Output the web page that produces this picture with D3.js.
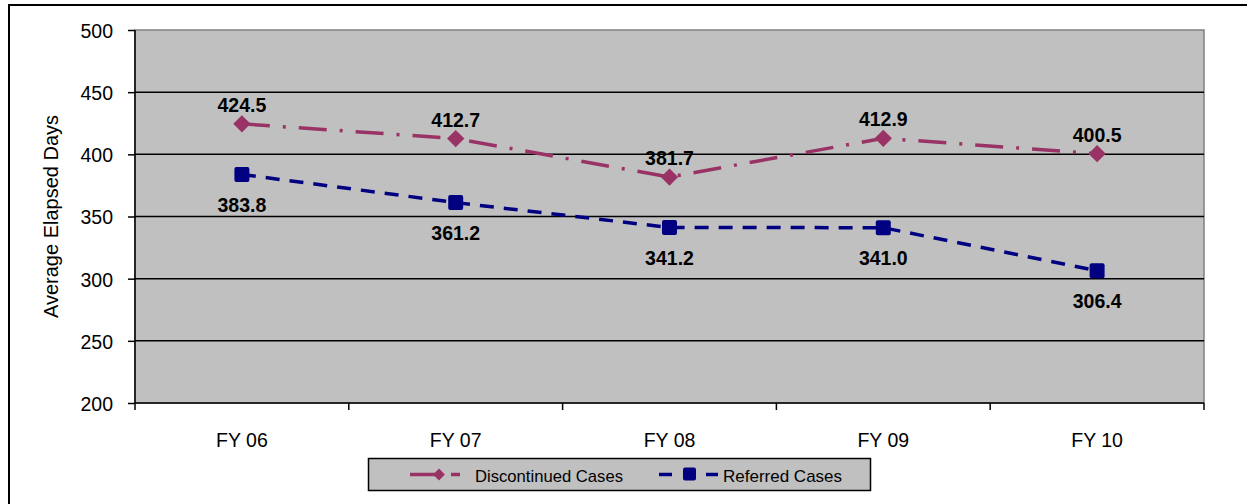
<!DOCTYPE html>
<html><head><meta charset="utf-8">
<script src="https://cdn.jsdelivr.net/npm/d3@7"></script>
<style>body{margin:0;background:#fff;}svg{display:block;font-family:Arial,"Liberation Sans",sans-serif;}</style>
</head><body>
<svg id="c" width="1247" height="504"></svg>
<script>
const categories = ["FY 06","FY 07","FY 08","FY 09","FY 10"];
const discontinued = [424.5, 412.7, 381.7, 412.9, 400.5];
const referred = [383.8, 361.2, 341.2, 341.0, 306.4];
const yTicks = [200,250,300,350,400,450,500];
const seriesNames = ["Discontinued Cases","Referred Cases"];

const FONT = "Arial,'Liberation Sans',sans-serif";
const svg = d3.select("#c");
const L=135, R=1204, T=30, B=403;
// outer border
svg.append("rect").attr("x",9).attr("y",5).attr("width",1250).attr("height",510)
  .attr("fill","none").attr("stroke","#000").attr("stroke-width",2);

const x = d3.scaleBand().domain(categories).range([L,R]);
const y = d3.scaleLinear().domain([200,500]).range([B,T]);

svg.append("rect").attr("x",L).attr("y",T).attr("width",R-L).attr("height",B-T)
  .attr("fill","#c0c0c0").attr("stroke","#808080").attr("stroke-width",1.5);

// gridlines
svg.append("g").selectAll("line").data(yTicks.filter(d=>d>200&&d<500)).join("line")
  .attr("x1",L).attr("x2",R).attr("y1",d=>y(d)).attr("y2",d=>y(d))
  .attr("stroke","#000").attr("stroke-width",1.5);

// y axis
const ya = svg.append("g").attr("transform",`translate(${L},0)`)
  .call(d3.axisLeft(y).tickValues(yTicks).tickSize(7).tickPadding(15));
ya.attr("font-size",null).attr("font-family",null);
ya.select(".domain").attr("stroke","#000").attr("stroke-width",1.5).attr("d",`M0,${T}V${B}`);
ya.selectAll(".tick line").attr("stroke","#000").attr("stroke-width",1.5);
ya.selectAll("text").attr("font-size","19.5px").attr("dy","0.38em").attr("fill","#000").attr("font-family",FONT);

// x axis
const xa = svg.append("g").attr("transform",`translate(0,${B})`)
  .call(d3.axisBottom(x).tickSize(0).tickPadding(30));
xa.attr("font-size",null).attr("font-family",null);
xa.select(".domain").attr("stroke","#000").attr("stroke-width",1.5).attr("d",`M${L},0H${R}`);
xa.selectAll("text").attr("font-size","19.5px").attr("fill","#000").attr("font-family",FONT);
const bounds = categories.map(c=>x(c)).concat([R]);
xa.append("g").selectAll("line").data(bounds).join("line")
  .attr("x1",d=>d).attr("x2",d=>d).attr("y1",0).attr("y2",7)
  .attr("stroke","#000").attr("stroke-width",1.5);

// y label
svg.append("text").attr("transform",`translate(58,${(T+B)/2}) rotate(-90)`)
  .attr("text-anchor","middle").attr("font-size","20px").text("Average Elapsed Days");

const cx = c => x(c)+x.bandwidth()/2;
const pink="#993366", blue="#000080";
const line = d3.line().x((d,i)=>cx(categories[i])).y(d=>y(d));

svg.append("path").datum(discontinued).attr("d",line).attr("fill","none")
  .attr("stroke",pink).attr("stroke-width",3.5).attr("stroke-dasharray","28,13,3,13");
svg.append("path").datum(referred).attr("d",line).attr("fill","none")
  .attr("stroke",blue).attr("stroke-width",3.5).attr("stroke-dasharray","14,10");

const diamond = d3.symbol().type(d3.symbolSquare).size(150);
svg.append("g").selectAll("path").data(discontinued).join("path")
  .attr("d",diamond).attr("fill",pink)
  .attr("transform",(d,i)=>`translate(${cx(categories[i])},${y(d)}) rotate(45)`);
svg.append("g").selectAll("rect").data(referred).join("rect")
  .attr("x",(d,i)=>cx(categories[i])-7.5).attr("y",d=>y(d)-7.5)
  .attr("width",15).attr("height",15).attr("rx",2).attr("fill",blue);

svg.append("g").selectAll("text").data(discontinued).join("text")
  .attr("x",(d,i)=>cx(categories[i])).attr("y",d=>y(d)-12)
  .attr("text-anchor","middle").attr("font-size","19.5px").attr("font-weight","bold")
  .text(d=>d.toFixed(1));
svg.append("g").selectAll("text").data(referred).join("text")
  .attr("x",(d,i)=>cx(categories[i])).attr("y",d=>y(d)+37.5)
  .attr("text-anchor","middle").attr("font-size","19.5px").attr("font-weight","bold")
  .text(d=>d.toFixed(1));

// legend
const lg = svg.append("g");
lg.append("rect").attr("x",368.5).attr("y",458.5).attr("width",502).attr("height",32)
  .attr("fill","#c0c0c0").attr("stroke","#000").attr("stroke-width",1.5);
const ly = 474.5;
lg.append("line").attr("x1",410).attr("x2",470).attr("y1",ly).attr("y2",ly)
  .attr("stroke",pink).attr("stroke-width",3.5).attr("stroke-dasharray","30,11,9");
lg.append("path").attr("d",d3.symbol().type(d3.symbolSquare).size(70))
  .attr("fill",pink).attr("transform",`translate(439,${ly}) rotate(45)`);
lg.append("text").attr("x",475).attr("y",482).attr("font-size","17px")
  .attr("textLength",148).attr("lengthAdjust","spacingAndGlyphs").text(seriesNames[0]);
lg.append("line").attr("x1",659).attr("x2",718).attr("y1",ly).attr("y2",ly)
  .attr("stroke",blue).attr("stroke-width",3.5).attr("stroke-dasharray","13,34,13");
lg.append("rect").attr("x",683).attr("y",ly-7).attr("width",13).attr("height",13).attr("rx",2).attr("fill",blue);
lg.append("text").attr("x",723).attr("y",482).attr("font-size","17px").text(seriesNames[1]);
</script>
</body></html>
